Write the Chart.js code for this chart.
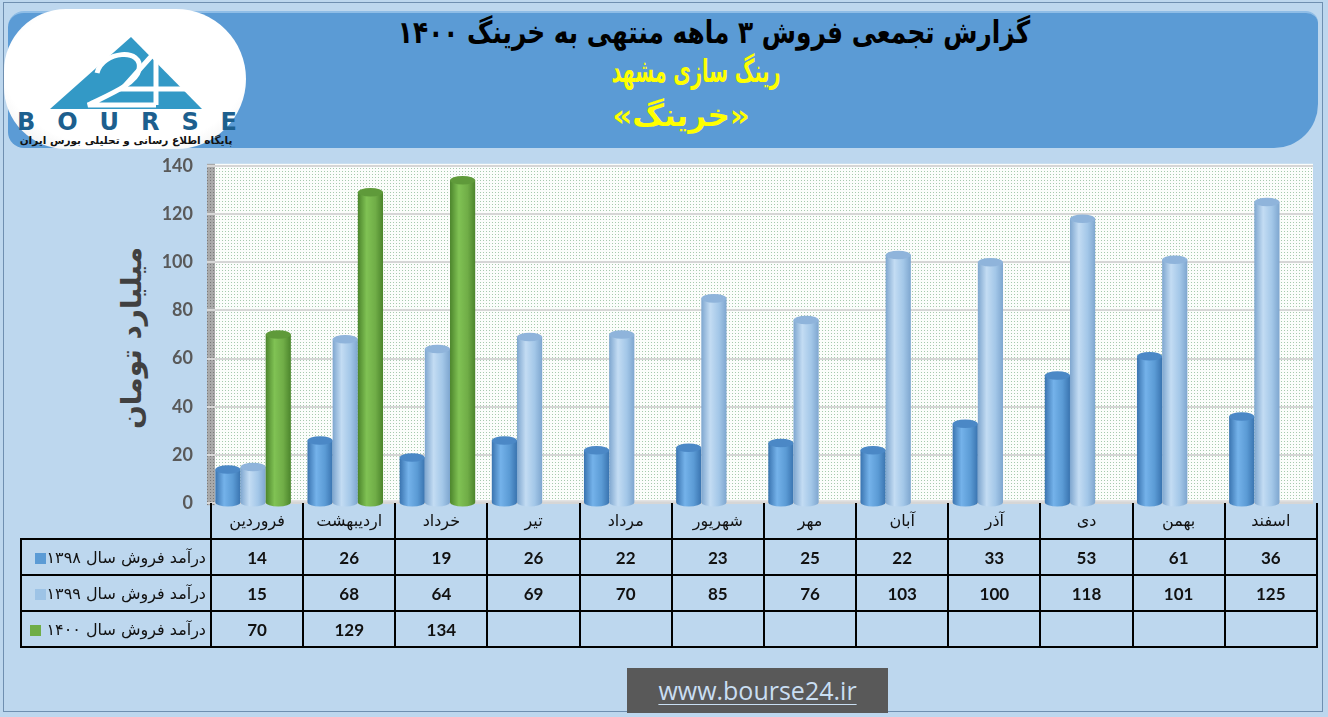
<!DOCTYPE html>
<html>
<head>
<meta charset="utf-8">
<script src="https://cdn.jsdelivr.net/npm/chart.js@4.4.1/dist/chart.umd.min.js"></script>
<style>
  body { margin: 0; background: #bdd7ee; }
  #wrap { position: relative; width: 1328px; height: 717px; overflow: hidden; background: #bdd7ee; }
  #frame { position: absolute; left: 3px; top: 2px; width: 1320px; height: 710px; border: 1px solid #6f8fb0; box-sizing: border-box; }
  #banner { position: absolute; left: 8px; top: 11px; width: 1310px; height: 137px; background: #5b9bd5; border-radius: 16px 12px 44px 16px; border-top: 2px solid #8fbde6; box-sizing: border-box; }
  .ttl { position: absolute; font-family: "DejaVu Sans", sans-serif; font-weight: bold; direction: rtl; white-space: nowrap; }
  #logo { position: absolute; left: 4px; top: 9px; width: 242px; height: 140px; border-radius: 62px 70px 70px 62px; background: radial-gradient(ellipse at 50% 45%, #ffffff 70%, #e6e6e6 100%); }
  #ytitle { position: absolute; left: 131px; top: 338px; transform: translate(-50%, -50%) rotate(-90deg); font-family: "DejaVu Sans", sans-serif; font-weight: bold; font-size: 28px; color: #404040; direction: rtl; white-space: nowrap; }
  #chart { position: absolute; left: 0; top: 141px; }
  #tbl { position: absolute; top: 503px; border-collapse: collapse; table-layout: fixed; }
  #tbl td { height: 34px; padding: 0; text-align: center; border: 2px solid #000; font-family: "Lato", sans-serif; font-weight: bold; font-size: 17px; color: #111; }
  #tbl tr.head td { border-top: none; font-family: "DejaVu Sans", sans-serif; font-weight: normal; font-size: 16px; direction: rtl; height: 35px; }
  #tbl tr.head td.blank { border: none; border-bottom: 2px solid #000; }
  #tbl td.lab { font-family: "DejaVu Sans", sans-serif; font-weight: normal; font-size: 16px; text-align: right; padding-right: 4px; white-space: nowrap; }
  .key { display: inline-block; width: 11px; height: 11px; margin-left: 4px; vertical-align: middle; }
  #site { position: absolute; left: 627px; top: 668px; width: 261px; height: 45px; background: #595959; color: #c9def2; font-family: "Open Sans", sans-serif; font-size: 25px; text-align: center; line-height: 44px; text-decoration: underline; text-decoration-thickness: 1px; text-underline-offset: 4px; }
</style>
</head>
<body>
<div id="wrap">
  <div id="frame"></div>
  <div id="banner"></div>
  <div class="ttl" style="left:714px; top:14px; font-size:31px; color:#000; transform: translateX(-50%) scaleX(0.8);">گزارش تجمعی فروش ۳ ماهه منتهی به خرینگ ۱۴۰۰</div>
  <div class="ttl" style="left:696px; top:52px; font-size:32px; color:#ffff00; transform: translateX(-50%) scaleX(0.6);">رینگ سازی مشهد</div>
  <div class="ttl" style="left:681px; top:97px; font-size:31px; color:#ffff00; transform: translateX(-50%);">«خرینگ»</div>
  <div id="logo">
    <svg width="242" height="140">
      <polygon points="127,28 46,100 198,100" fill="#3399c6"/>
      <path d="M93,64 C98,42 140,38 135,61 C132,75 104,86 84,96 L152,96" stroke="#fff" stroke-width="5" fill="none"/>
      <path d="M152,42 L152,96 M152,42 L118,80 L182,80" stroke="#fff" stroke-width="5" fill="none"/>
      <text x="13" y="121" textLength="220" lengthAdjust="spacing" font-family="DejaVu Sans" font-size="24" font-weight="bold" fill="#1d5f8e">BOURSE</text>
      <text x="122" y="135" text-anchor="middle" font-family="DejaVu Sans" font-size="10.5" font-weight="bold" fill="#111" direction="rtl">پایگاه اطلاع رسانی و تحلیلی بورس ایران</text>
    </svg>
  </div>
  <div id="ytitle">میلیارد تومان</div>
  <canvas id="chart" width="1328" height="387"></canvas>
  <table id="tbl"></table>
  <div id="site">www.bourse24.ir</div>
</div>
<script>
const months = ["فروردین", "اردیبهشت", "خرداد", "تیر", "مرداد", "شهریور", "مهر", "آبان", "آذر", "دی", "بهمن", "اسفند"];
const seriesNames = ["درآمد فروش سال ۱۳۹۸", "درآمد فروش سال ۱۳۹۹", " درآمد فروش سال ۱۴۰۰"];
const sales1398 = [14, 26, 19, 26, 22, 23, 25, 22, 33, 53, 61, 36];
const sales1399 = [15, 68, 64, 69, 70, 85, 76, 103, 100, 118, 101, 125];
const sales1400 = [70, 129, 134, null, null, null, null, null, null, null, null, null];
const yTicks = [0, 20, 40, 60, 80, 100, 120, 140];

const keyColors = ["#5b9bd5", "#9dc3e6", "#70ad47"];
// edge / highlight / cap shades for the cylinders
const shades = [
  { edge: "#3a74b0", mid: "#5b9bd5", hi: "#74b2ea", cap: "#4b88c6" },
  { edge: "#7ea6cf", mid: "#a3c7e8", hi: "#c3dcf3", cap: "#8fb4db" },
  { edge: "#4c852c", mid: "#70ad47", hi: "#80c254", cap: "#5f9a3a" }
];

function dotPattern(ctx, bg, dot) {
  const c = document.createElement("canvas");
  c.width = 3; c.height = 3;
  const g = c.getContext("2d");
  g.fillStyle = bg; g.fillRect(0, 0, 3, 3);
  g.fillStyle = dot; g.fillRect(0, 0, 1, 1);
  return ctx.createPattern(c, "repeat");
}

const wallPlugin = {
  id: "wall",
  beforeDraw(chart) {
    const { ctx, chartArea: a } = chart;
    ctx.save();
    ctx.fillStyle = dotPattern(ctx, "#a9a9a9", "#7a7a7a");
    ctx.fillRect(a.left, a.top - 2, 8, a.bottom - a.top + 4);
    ctx.fillStyle = dotPattern(ctx, "#fbfdfb", "#a6c9ad");
    ctx.fillRect(a.left + 8, a.top - 2, a.right - a.left - 8, a.bottom - a.top);
    ctx.fillStyle = "#dcdcdc";
    ctx.fillRect(a.left + 8, a.bottom - 3, a.right - a.left - 8, 3);
    ctx.restore();
  }
};

const cylinderPlugin = {
  id: "cylinders",
  afterDatasetsDraw(chart) {
    const ctx = chart.ctx;
    chart.data.datasets.forEach((ds, i) => {
      const meta = chart.getDatasetMeta(i);
      const s = shades[i];
      meta.data.forEach((el, j) => {
        if (ds.data[j] == null) return;
        const w = el.width, x0 = el.x - w / 2, x1 = el.x + w / 2;
        const ry = w * 0.17;
        const g = ctx.createLinearGradient(x0, 0, x1, 0);
        g.addColorStop(0, s.edge);
        g.addColorStop(0.35, s.hi);
        g.addColorStop(0.7, s.mid);
        g.addColorStop(1, s.edge);
        ctx.save();
        ctx.fillStyle = g;
        ctx.beginPath();
        ctx.moveTo(x0, el.y);
        ctx.lineTo(x0, el.base);
        ctx.ellipse(el.x, el.base, w / 2, ry, 0, Math.PI, 0, true);
        ctx.lineTo(x1, el.y);
        ctx.closePath();
        ctx.fill();
        ctx.fillStyle = s.cap;
        ctx.beginPath();
        ctx.ellipse(el.x, el.y, w / 2, ry, 0, 0, Math.PI * 2);
        ctx.fill();
        ctx.restore();
      });
    });
  }
};

const chart = new Chart(document.getElementById("chart"), {
  type: "bar",
  data: {
    labels: months,
    datasets: [
      { label: seriesNames[0], data: sales1398, backgroundColor: "rgba(0,0,0,0)" },
      { label: seriesNames[1], data: sales1399, backgroundColor: "rgba(0,0,0,0)" },
      { label: seriesNames[2], data: sales1400, backgroundColor: "rgba(0,0,0,0)" }
    ]
  },
  options: {
    responsive: false,
    animation: false,
    devicePixelRatio: 1,
    categoryPercentage: 0.82,
    barPercentage: 1.0,
    layout: { padding: { top: 6, right: 15, bottom: 8, left: 0 } },
    plugins: { legend: { display: false }, tooltip: { enabled: false } },
    scales: {
      x: { display: false },
      y: {
        min: yTicks[0],
        max: yTicks[yTicks.length - 1],
        afterFit(scale) { scale.width = 207; },
        afterBuildTicks(scale) { scale.ticks = yTicks.map(v => ({ value: v })); },
        border: { display: false },
        grid: { color: "#d6d6d6", lineWidth: 2, drawTicks: false },
        ticks: { color: "#595959", padding: 14, font: { family: "Lato", size: 18, weight: "bold" } }
      }
    }
  },
  plugins: [wallPlugin, cylinderPlugin]
});

// data table under the plot, columns follow the chart's category scale
const area = chart.chartArea;
const tbl = document.getElementById("tbl");
const legendLeft = 20;
const colW = (area.right - area.left) / months.length;
tbl.style.left = legendLeft + "px";
let html = "<colgroup><col style='width:" + (area.left + 3 - legendLeft) + "px'>";
months.forEach(() => { html += "<col style='width:" + colW + "px'>"; });
html += "</colgroup><tr class='head'><td class='blank'></td>";
months.forEach(m => { html += "<td>" + m + "</td>"; });
html += "</tr>";
[sales1398, sales1399, sales1400].forEach((row, i) => {
  html += "<tr><td class='lab'><span class='key' style='background:" + keyColors[i] + "'></span>" + seriesNames[i] + "</td>";
  row.forEach(v => { html += "<td>" + (v == null ? "" : v) + "</td>"; });
  html += "</tr>";
});
tbl.innerHTML = html;
</script>
</body>
</html>
